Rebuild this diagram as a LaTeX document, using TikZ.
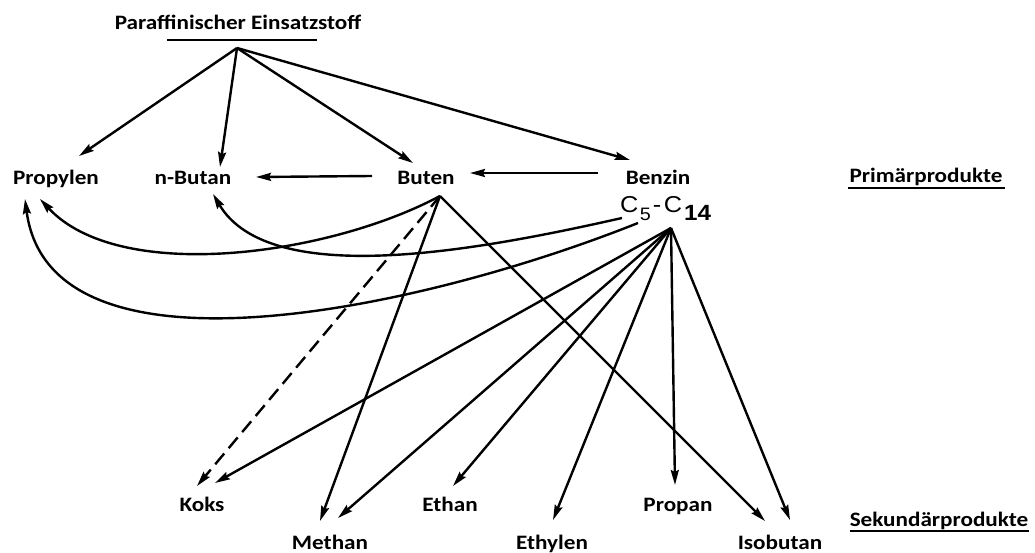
\documentclass[tikz,border=0pt]{standalone}
\usepackage{fontspec}
\setmainfont{Carlito}[FakeStretch=1.13]
\newfontfamily\arialf{Liberation Sans}[FakeStretch=1.1]
\usetikzlibrary{arrows.meta}
\begin{document}
\begin{tikzpicture}[x=1pt,y=-1pt,
  lbl/.style={font=\fontsize{20.5}{23}\selectfont\bfseries, inner sep=0pt, anchor=base},
  con/.style={line width=2.4pt, -{Stealth[length=15pt,width=8pt,inset=2pt]}},
  dashcon/.style={con, dash pattern=on 14pt off 7pt},
  uline/.style={line width=2.4pt}]
\useasboundingbox (0,0) rectangle (1035,553);
% text nodes
\node[lbl] (title) at (238,30) {Paraffinischer Einsatzstoff};
\node[lbl] (propylen) at (56,185) {Propylen};
\node[lbl] (nbutan) at (193,185) {n-Butan};
\node[lbl] (buten) at (426,185) {Buten};
\node[lbl] (benzin) at (658,185) {Benzin};
\node[lbl] (prim) at (926,183) {Primärprodukte};
\node[inner sep=0pt, anchor=base west, font=\arialf\fontsize{23}{26}\selectfont] (cc) at (620,213)
  {C\kern1.5pt\raisebox{-8pt}{\fontsize{18}{20}\selectfont 5}\kern2pt-\kern2.5pt C\kern2pt\raisebox{-8pt}{\fontsize{22}{22}\selectfont\bfseries 14}};
\node[lbl] (koks) at (202,511) {Koks};
\node[lbl] (methan) at (330,549) {Methan};
\node[lbl] (ethan) at (450,511) {Ethan};
\node[lbl] (ethylen) at (552,549) {Ethylen};
\node[lbl] (propan) at (678,511) {Propan};
\node[lbl] (isobutan) at (780,549) {Isobutan};
\node[lbl] (sek) at (939,526) {Sekundärprodukte};
% underlines
\coordinate (ul1) at (167,40); \coordinate (ul2) at (317,40);
\draw[uline] (ul1) -- (ul2);
\coordinate (pu1) at (848,188); \coordinate (pu2) at (1005,188);
\draw[uline, line width=1.4pt] (pu1) -- (pu2);
\coordinate (su1) at (850,531); \coordinate (su2) at (1029,531);
\draw[uline, line width=1.4pt] (su1) -- (su2);
% apex coordinates
\coordinate (pa) at (237,48);
\coordinate (ba) at (440,196);
\coordinate (ca) at (671,228);
\coordinate (c5a) at (622,218);
\coordinate (c5b) at (638,223);
% target coordinates
\coordinate (tProp) at (79,156);
\coordinate (tNBut) at (220,167);
\coordinate (tBut) at (413,163);
\coordinate (tBenz) at (630,160);
\coordinate (hB1) at (598,173); \coordinate (hB2) at (470,173);
\coordinate (hN1) at (372,176); \coordinate (hN2) at (256,177);
\coordinate (tPropIn) at (40,199);
\coordinate (tPropOut) at (25,199);
\coordinate (tNButC) at (213,194);
\coordinate (tKoks1) at (197,486);
\coordinate (tKoks2) at (215,483);
\coordinate (tMeth1) at (320,521);
\coordinate (tMeth2) at (338,518);
\coordinate (tEthan) at (453,486);
\coordinate (tEthyl) at (553,520);
\coordinate (tPropan) at (675,485);
\coordinate (tIso1) at (765,521);
\coordinate (tIso2) at (790,520);
% connectors from feed
\draw[con] (pa) -- (tProp);
\draw[con] (pa) -- (tNBut);
\draw[con] (pa) -- (tBut);
\draw[con] (pa) -- (tBenz);
% horizontal
\draw[con] (hB1) -- (hB2);
\draw[con] (hN1) -- (hN2);
% curves
\draw[con] (ba) .. controls (330,255) and (120,285) .. (tPropIn);
\draw[con] (c5a) .. controls (480,250) and (270,290) .. (tNButC);
\draw[con] (c5b) .. controls (420,310) and (50,390) .. (tPropOut);
% from Buten
\draw[dashcon] (ba) -- (tKoks1);
\draw[con] (ba) -- (tMeth1);
\draw[con] (ba) -- (tIso1);
% from C5-C14
\draw[con] (ca) -- (tKoks2);
\draw[con] (ca) -- (tMeth2);
\draw[con] (ca) -- (tEthan);
\draw[con] (ca) -- (tEthyl);
\draw[con] (ca) -- (tPropan);
\draw[con] (ca) -- (tIso2);
\end{tikzpicture}
\end{document}
